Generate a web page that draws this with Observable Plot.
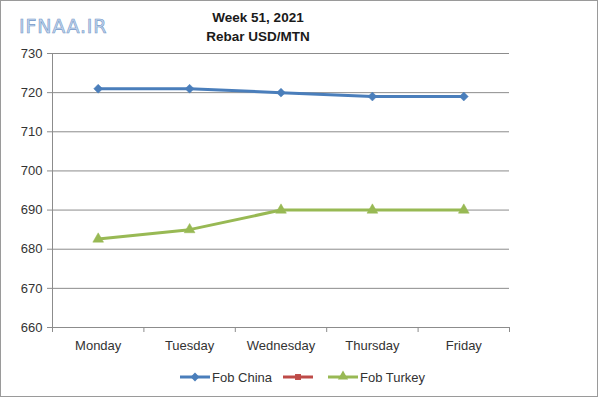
<!DOCTYPE html>
<html>
<head>
<meta charset="utf-8">
<script src="https://cdn.jsdelivr.net/npm/d3@7"></script>
<script src="https://cdn.jsdelivr.net/npm/@observablehq/plot@0.6"></script>
<style>
  html, body { margin: 0; padding: 0; background: #fff; }
  #wrap { position: relative; width: 600px; height: 398px; overflow: hidden; font-family: "Liberation Sans", Arial, sans-serif; }
  #frame { position: absolute; left: 0; top: 0; width: 596px; height: 395px; border: 1px solid #9a9a9a; }
  #logo { position: absolute; left: 19px; top: 15px; font-family: "DejaVu Sans", sans-serif; font-size: 19px; letter-spacing: 0.8px; color: #c3d6ee; -webkit-text-stroke: 0.6px #7599c9; }
  #title { position: absolute; left: 158px; width: 200px; top: 8px; text-align: center; font-weight: bold; font-size: 13.5px; line-height: 19px; color: #1a1a1a; }
  #chart { position: absolute; left: 0; top: 40px; }
  #legend { position: absolute; left: 0; top: 367px; }
</style>
</head>
<body>
<div id="wrap">
  <div id="frame"></div>
  <div id="logo">IFNAA.IR</div>
  <div id="title">Week 51, 2021<br>Rebar USD/MTN</div>
  <div id="chart"></div>
  <div id="legend"></div>
</div>
<script>
const days = ["Monday", "Tuesday", "Wednesday", "Thursday", "Friday"];
const fobChina = [721, 721, 720, 719, 719];
const fobTurkey = [682.6, 685, 690, 690, 690];
const yTicks = [660, 670, 680, 690, 700, 710, 720, 730];
const colors = { china: "#4A7EBB", blank: "#BE4B48", turkey: "#98B954" };

const china = days.map((d, i) => ({ i: i + 0.5, day: d, v: fobChina[i] }));
const turkey = days.map((d, i) => ({ i: i + 0.5, day: d, v: fobTurkey[i] }));
const dayPos = days.map((d, i) => ({ i: i + 0.5, day: d, base: yTicks[0] }));

const plot = Plot.plot({
  width: 600,
  height: 322,
  marginTop: 13,
  marginBottom: 35,
  marginLeft: 52,
  marginRight: 91,
  style: { fontFamily: "Liberation Sans, Arial, sans-serif", fontSize: "13px", color: "#333", overflow: "visible" },
  x: { type: "linear", domain: [0, days.length], axis: null },
  y: { type: "linear", domain: [660, 730], axis: null },
  marks: [
    Plot.ruleY(yTicks, { stroke: "#8c8c8c", strokeWidth: 1 }),
    Plot.ruleX([0], { stroke: "#8c8c8c", strokeWidth: 1 }),
    Plot.axisY({ ticks: yTicks, tickSize: 5, tickPadding: 5, stroke: "#8c8c8c", fill: "#333", fontSize: 13, label: null }),
    Plot.axisX({ ticks: d3.range(days.length + 1), tickSize: 5, tickFormat: () => "", stroke: "#8c8c8c", label: null }),
    Plot.text(dayPos, { x: "i", y: "base", text: "day", dy: 18, fill: "#333", fontSize: 13 }),
    Plot.line(china, { x: "i", y: "v", stroke: colors.china, strokeWidth: 3 }),
    Plot.dot(china, { x: "i", y: "v", symbol: "diamond2", r: 4, fill: colors.china, stroke: colors.china, strokeWidth: 0.5 }),
    Plot.line(turkey, { x: "i", y: "v", stroke: colors.turkey, strokeWidth: 3 }),
    Plot.dot(turkey, { x: "i", y: "v", symbol: "triangle", r: 4, fill: colors.turkey, stroke: colors.turkey, strokeWidth: 0.5 })
  ]
});
document.getElementById("chart").appendChild(plot);

// Legend
const legendItems = [
  { label: "Fob China", color: colors.china, symbol: "diamond", x: 180 },
  { label: "", color: colors.blank, symbol: "square", x: 283 },
  { label: "Fob Turkey", color: colors.turkey, symbol: "triangle", x: 328 }
];
const ns = "http://www.w3.org/2000/svg";
const lsvg = document.createElementNS(ns, "svg");
lsvg.setAttribute("width", 600);
lsvg.setAttribute("height", 22);
lsvg.setAttribute("font-family", "Liberation Sans, Arial, sans-serif");
lsvg.setAttribute("font-size", 13);
for (const it of legendItems) {
  const g = document.createElementNS(ns, "g");
  const ln = document.createElementNS(ns, "line");
  ln.setAttribute("x1", it.x); ln.setAttribute("x2", it.x + 30);
  ln.setAttribute("y1", 10); ln.setAttribute("y2", 10);
  ln.setAttribute("stroke", it.color); ln.setAttribute("stroke-width", 3);
  g.appendChild(ln);
  const sym = document.createElementNS(ns, "path");
  const s = { diamond: d3.symbolDiamond2, square: d3.symbolSquare2, triangle: d3.symbolTriangle }[it.symbol];
  sym.setAttribute("d", d3.symbol(s, it.symbol === "diamond" ? 50 : 45)());
  sym.setAttribute("transform", `translate(${it.x + 15},${it.symbol === "triangle" ? 9.5 : 10})`);
  sym.setAttribute("fill", it.color);
  g.appendChild(sym);
  if (it.label) {
    const t = document.createElementNS(ns, "text");
    t.setAttribute("x", it.x + 32); t.setAttribute("y", 14.5);
    t.setAttribute("fill", "#333");
    t.textContent = it.label;
    g.appendChild(t);
  }
  lsvg.appendChild(g);
}
document.getElementById("legend").appendChild(lsvg);
</script>
</body>
</html>
